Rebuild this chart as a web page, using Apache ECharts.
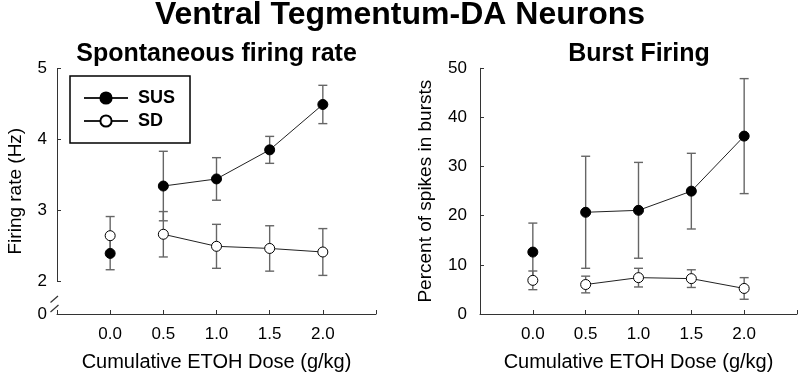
<!DOCTYPE html>
<html><head><meta charset="utf-8">
<script src="https://cdn.jsdelivr.net/npm/echarts@6/dist/echarts.min.js"></script>
<style>html,body{margin:0;padding:0;background:#fff}#c{width:800px;height:377px}</style>
</head><body><div id="c"></div>
<script>
// ---- data ----
const doses = [0, 0.5, 1.0, 1.5, 2.0];
const xTickLabels = ['0.0', '0.5', '1.0', '1.5', '2.0'];
const rateSUS = [2.39, 3.34, 3.44, 3.85, 4.49];
const rateSUSErr = [0.23, 0.49, 0.30, 0.19, 0.27];
const rateSD = [2.64, 2.66, 2.49, 2.46, 2.41];
const rateSDErr = [0.27, 0.32, 0.31, 0.32, 0.33];
const burstSUS = [12.6, 20.7, 21.1, 25.0, 36.2];
const burstSUSErr = [5.9, 11.4, 9.75, 7.7, 11.7];
const burstSD = [6.85, 6.0, 7.4, 7.2, 5.2];
const burstSDErr = [1.9, 1.7, 1.9, 1.8, 2.2];
const rateTicks = [0, 2, 3, 4, 5];
const burstTicks = [0, 10, 20, 30, 40, 50];

const FONT = '"Liberation Sans", Arial, Helvetica, sans-serif';
const chart = echarts.init(document.getElementById('c'));

function errData(m, e) { return doses.map((d, i) => [d, m[i] - e[i], m[i] + e[i]]); }
function pts(m) { return doses.map((d, i) => [d, m[i]]); }

function errSeries(m, e, ai) {
  return {
    type: 'custom', xAxisIndex: ai, yAxisIndex: ai, z: 2, silent: true,
    renderItem: (params, api) => {
      const x = api.value(0), lo = api.value(1), hi = api.value(2);
      const pLo = api.coord([x, lo]), pHi = api.coord([x, hi]);
      const hw = 4.5;
      const st = { stroke: '#666', lineWidth: 1.4 };
      return { type: 'group', children: [
        { type: 'line', shape: { x1: pLo[0], y1: pLo[1], x2: pHi[0], y2: pHi[1] }, style: st },
        { type: 'line', shape: { x1: pLo[0] - hw, y1: pLo[1], x2: pLo[0] + hw, y2: pLo[1] }, style: st },
        { type: 'line', shape: { x1: pHi[0] - hw, y1: pHi[1], x2: pHi[0] + hw, y2: pHi[1] }, style: st }
      ]};
    },
    encode: { x: 0, y: [1, 2] },
    data: errData(m, e)
  };
}
function lineSeries(name, m, ai, filled) {
  return {
    name, type: 'line', xAxisIndex: ai, yAxisIndex: ai, z: 3,
    data: pts(m).slice(1), symbol: 'circle', symbolSize: 10,
    itemStyle: { color: filled ? '#000' : '#fff', borderColor: '#000', borderWidth: 1 },
    lineStyle: { color: '#222', width: 1 }, emphasis: { disabled: true }, animation: false
  };
}
function firstPoint(name, m, ai, filled) {
  return {
    name, type: 'scatter', xAxisIndex: ai, yAxisIndex: ai, z: 4,
    data: pts(m).slice(0, 1), symbol: 'circle', symbolSize: 10,
    itemStyle: { color: filled ? '#000' : '#fff', borderColor: '#000', borderWidth: 1, opacity: 1 },
    emphasis: { disabled: true }, animation: false
  };
}
function xAxis(gi) {
  return {
    type: 'value', gridIndex: gi, min: -0.5, max: 2.5, interval: 0.5,
    axisLine: { onZero: false, lineStyle: { color: '#333', width: 1 } },
    axisTick: { inside: true, length: 4, lineStyle: { color: '#333' } },
    splitLine: { show: false },
    axisLabel: { fontFamily: FONT, fontSize: 17, color: '#000', margin: 12,
      formatter: v => { const i = doses.indexOf(v); return i >= 0 ? xTickLabels[i] : ''; } },
    name: 'Cumulative ETOH Dose (g/kg)', nameLocation: 'middle', nameGap: 38,
    nameTextStyle: { fontFamily: FONT, fontSize: 20, color: '#000' }
  };
}

const option = {
  animation: false,
  backgroundColor: '#fff',
  grid: [
    { left: 57, top: 68.3, width: 319, height: 248.4 },
    { left: 480, top: 68.3, width: 318, height: 248.4 }
  ],
  legend: {
    data: ['SUS', 'SD'], left: 70, top: 76, orient: 'vertical',
    padding: [13, 15, 13, 13], itemGap: 5, itemWidth: 44, itemHeight: 14,
    borderColor: '#000', borderWidth: 1.5, borderRadius: 0,
    textStyle: { fontFamily: FONT, fontWeight: 'bold', fontSize: 18, color: '#000', padding: [0, 0, 0, 5] },
    selectedMode: false
  },
  xAxis: [xAxis(0), xAxis(1)],
  yAxis: [
    {
      type: 'value', gridIndex: 0, min: 0, max: 5, interval: 1,
      breaks: [{ start: 0, end: 2, gap: '13.4%' }],
      breakArea: { show: false },
      axisLine: { show: true, onZero: false, lineStyle: { color: '#333', width: 1 } },
      axisTick: { show: true, inside: true, length: 4, lineStyle: { color: '#333' } },
      splitLine: { show: false },
      axisLabel: { fontFamily: FONT, fontSize: 17, color: '#000', margin: 10,
        formatter: v => rateTicks.indexOf(v) >= 0 ? String(v) : '' },
      name: 'Firing rate (Hz)', nameLocation: 'middle', nameGap: 32,
      nameTextStyle: { fontFamily: FONT, fontSize: 19, color: '#000' }
    },
    {
      type: 'value', gridIndex: 1, min: 0, max: 50, interval: 10,
      axisLine: { show: true, onZero: false, lineStyle: { color: '#333', width: 1 } },
      axisTick: { show: true, inside: true, length: 4, lineStyle: { color: '#333' } },
      splitLine: { show: false },
      axisLabel: { fontFamily: FONT, fontSize: 17, color: '#000', margin: 13,
        formatter: v => burstTicks.indexOf(v) >= 0 ? String(v) : '' },
      name: 'Percent of spikes in bursts', nameLocation: 'middle', nameGap: 45,
      nameTextStyle: { fontFamily: FONT, fontSize: 19, color: '#000' }
    }
  ],
  series: [
    errSeries(rateSUS, rateSUSErr, 0),
    errSeries(rateSD, rateSDErr, 0),
    lineSeries('SUS', rateSUS, 0, true),
    lineSeries('SD', rateSD, 0, false),
    firstPoint('SUS', rateSUS, 0, true),
    firstPoint('SD', rateSD, 0, false),
    errSeries(burstSUS, burstSUSErr, 1),
    errSeries(burstSD, burstSDErr, 1),
    lineSeries('SUS', burstSUS, 1, true),
    lineSeries('SD', burstSD, 1, false),
    firstPoint('SUS', burstSUS, 1, true),
    firstPoint('SD', burstSD, 1, false)
  ],
  graphic: [
    { id: 'tMain', type: 'text', x: 400, y: 15, style: { text: 'Ventral Tegmentum-DA Neurons', align: 'center', verticalAlign: 'middle',
      font: 'bold 32px ' + FONT, fill: '#000' } },
    { id: 'tLeft', type: 'text', x: 216.5, y: 54, style: { text: 'Spontaneous firing rate', align: 'center', verticalAlign: 'middle',
      font: 'bold 25px ' + FONT, fill: '#000' } },
    { id: 'tRight', type: 'text', x: 639, y: 54, style: { text: 'Burst Firing', align: 'center', verticalAlign: 'middle',
      font: 'bold 25px ' + FONT, fill: '#000' } }
  ]
};
chart.setOption(option);

// axis-break slash marks on the left y axis
const ax = chart.convertToPixel({ xAxisIndex: 0 }, -0.5);
const y0 = chart.convertToPixel({ yAxisIndex: 0 }, 0);
const slashStyle = { stroke: '#333', lineWidth: 1.2 };
chart.setOption({ graphic: [
  { id: 'bCover', type: 'line', shape: { x1: ax, y1: y0 - 16.5, x2: ax, y2: y0 - 7 }, style: { stroke: '#fff', lineWidth: 3 }, z: 100 },
  { id: 'bS1', type: 'line', shape: { x1: ax - 6.5, y1: y0 - 11.5, x2: ax + 1, y2: y0 - 18 }, style: slashStyle, z: 101 },
  { id: 'bS2', type: 'line', shape: { x1: ax - 6.5, y1: y0 - 2, x2: ax + 1.5, y2: y0 - 9 }, style: slashStyle, z: 101 }
] });
</script>
</body></html>
